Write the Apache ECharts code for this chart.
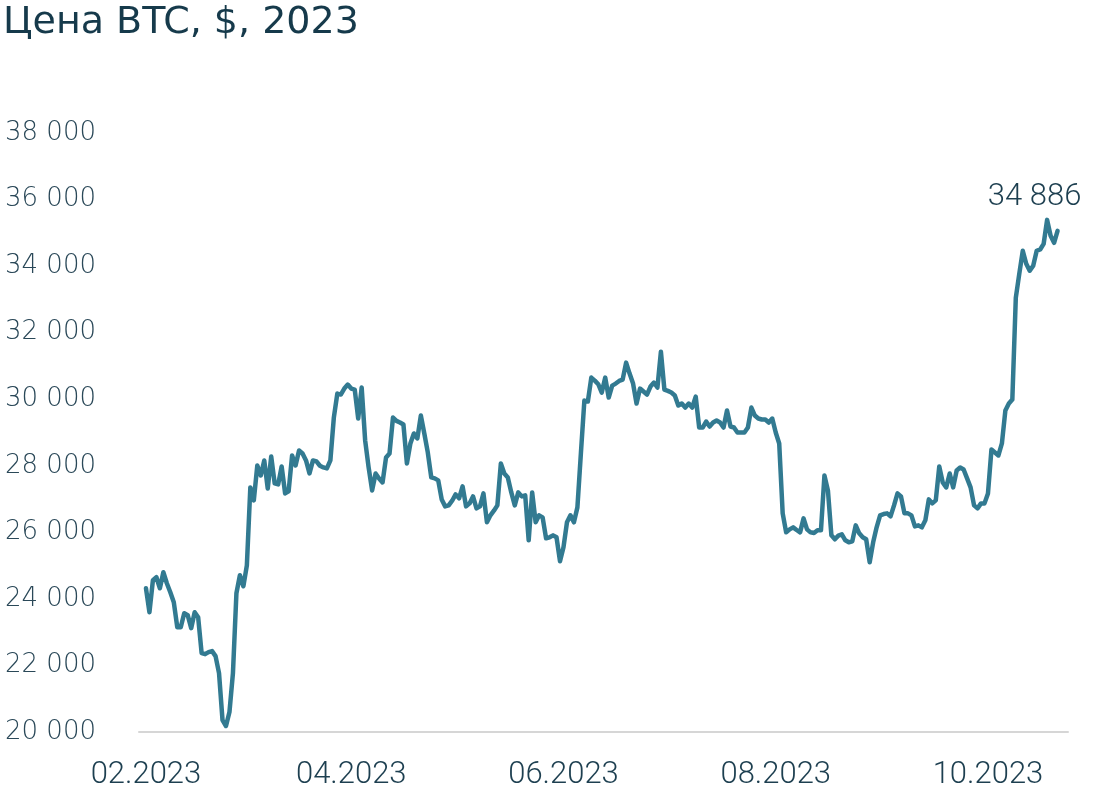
<!DOCTYPE html>
<html>
<head>
<meta charset="utf-8">
<script src="https://cdn.jsdelivr.net/npm/echarts@6/dist/echarts.min.js"></script>
<style>
html,body{margin:0;padding:0;background:#fff;}
#chart{width:1100px;height:803px;}
</style>
</head>
<body>
<div id="chart"></div>
<script>
// Day offsets counted from 01.02.2023 (one value per day)
const START_LABEL = '01.02.2023';
const prices = [
24320,23600,24560,24650,24320,24800,24470,24200,23900,23150,
23150,23570,23510,23120,23600,23450,22370,22340,22400,22430,
22280,21770,20360,20180,20600,21770,24170,24710,24380,25010,
27350,26960,28010,27710,28160,27320,28280,27470,27440,27980,
27170,27230,28310,28010,28460,28370,28160,27770,28160,28130,
28000,27950,27920,28160,29450,30170,30140,30320,30440,30320,
30290,29420,30350,28760,27950,27260,27770,27620,27500,28250,
28370,29450,29350,29300,29240,28070,28670,28970,28820,29510,
28970,28400,27650,27620,27560,26990,26780,26810,26950,27140,
27020,27380,26780,26870,27080,26720,26780,27170,26300,26510,
26650,26810,28070,27770,27650,27200,26810,27200,27080,27110,
25760,27200,26300,26510,26450,25820,25850,25910,25850,25130,
25550,26300,26510,26300,26750,28370,29960,29930,30650,30560,
30450,30200,30650,30050,30410,30470,30550,30590,31100,30770,
30470,29870,30320,30230,30140,30380,30500,30350,31430,30290,
30250,30200,30110,29810,29870,29750,29870,29750,30080,29150,
29150,29330,29180,29300,29360,29300,29150,29660,29180,29150,
29000,29000,29000,29150,29750,29510,29420,29390,29390,29300,
29420,29000,28670,26570,26000,26090,26150,26070,26000,26420,
26090,26000,25980,26060,26060,27710,27260,25910,25790,25900,
25940,25760,25700,25730,26210,25970,25850,25790,25100,25700,
26150,26510,26550,26570,26480,26810,27170,27080,26570,26570,
26510,26180,26210,26150,26360,26990,26870,26960,27980,27500,
27350,27770,27350,27860,27950,27890,27620,27350,26810,26720,
26870,26870,27170,28490,28400,28310,28670,29660,29870,29990,
33050,33770,34460,34070,33860,34010,34460,34500,34670,35390,
34910,34700,35060
];
const tickDays = [0, 59, 120, 181, 242];
const tickLabels = ['02.2023', '04.2023', '06.2023', '08.2023', '10.2023'];
const lastLabel = '34 886';
const titleText = 'Цена BTC, $, 2023';

const seriesData = prices.map((v, i) => [i, v]);
const lastIdx = prices.length - 1;

const fmtThousands = v => String(v).replace(/\B(?=(\d{3})+(?!\d))/g, ' ');

const narrowFont = "Roboto, 'DejaVu Sans Condensed', sans-serif";

const chart = echarts.init(document.getElementById('chart'), null, {renderer: 'canvas'});
chart.setOption({
  animation: false,
  backgroundColor: '#ffffff',
  title: {
    text: titleText,
    left: -2,
    top: -1,
    textStyle: {
      fontFamily: 'DejaVu Sans',
      fontSize: 38,
      fontWeight: 'normal',
      color: '#163a4b'
    }
  },
  grid: {left: 139, right: 32, top: 133, bottom: 71, containLabel: false},
  xAxis: {
    type: 'value',
    min: -2,
    max: 265,
    splitLine: {show: false},
    axisTick: {show: false},
    axisLine: {show: true, lineStyle: {color: '#d6d6d6', width: 2}},
    axisLabel: {
      customValues: tickDays,
      margin: 28,
      fontFamily: narrowFont,
      fontWeight: 300,
      fontSize: 31,
      color: '#1d3f50',
      formatter: v => {
        const k = tickDays.indexOf(Math.round(v));
        return k >= 0 ? tickLabels[k] : '';
      }
    }
  },
  yAxis: {
    type: 'value',
    min: 20000,
    max: 38000,
    interval: 2000,
    splitLine: {show: false},
    axisLine: {show: false},
    axisTick: {show: false},
    axisLabel: {
      align: 'left',
      margin: 134,
      fontFamily: 'DejaVu Sans',
      fontWeight: 300,
      fontSize: 26,
      color: '#2a4858',
      formatter: v => fmtThousands(v)
    }
  },
  series: [{
    type: 'line',
    data: seriesData,
    showSymbol: false,
    symbol: 'none',
    lineStyle: {color: '#327a91', width: 4.5, join: 'round', cap: 'round'},
    itemStyle: {color: '#327a91'},
    markPoint: {
      symbol: 'circle',
      symbolSize: 0,
      data: [{coord: [lastIdx, prices[lastIdx]], value: lastLabel}],
      label: {
        show: true,
        position: 'inside',
        offset: [-23, -34],
        formatter: lastLabel,
        fontFamily: narrowFont,
        fontWeight: 300,
        fontSize: 31,
        color: '#1d3f50'
      }
    }
  }]
});
</script>
</body>
</html>
